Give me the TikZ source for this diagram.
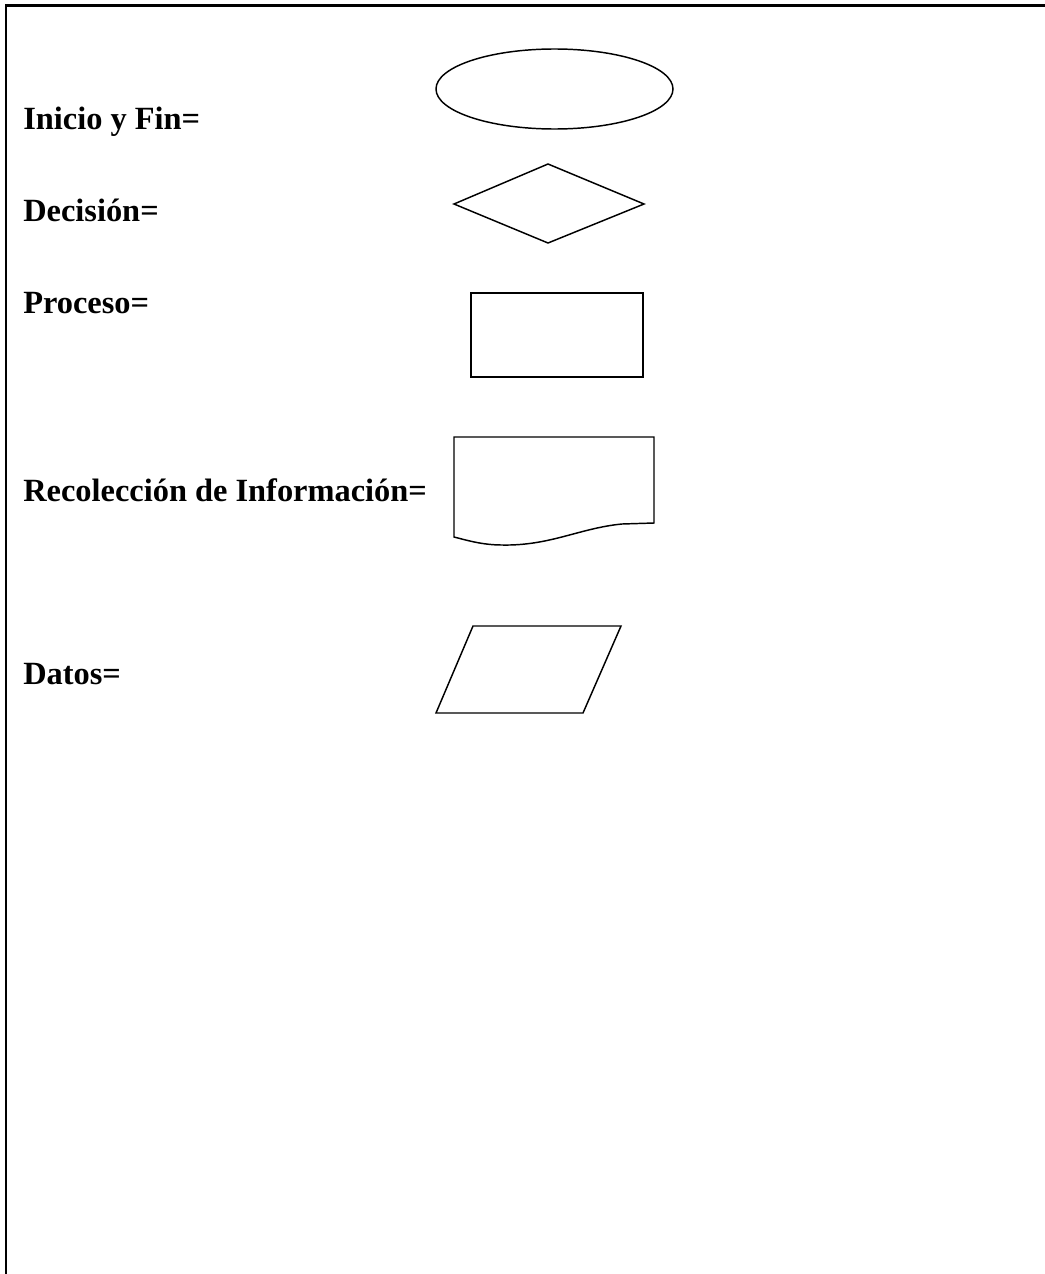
\documentclass[tikz,border=0pt]{standalone}
\usepackage{fontspec}
\setmainfont{Liberation Serif}
\begin{document}
\begin{tikzpicture}[x=0.75pt,y=-0.75pt,
  lbl/.style={anchor=base west,inner sep=0pt,font=\fontsize{24.3}{29}\selectfont\bfseries},
  shp/.style={draw=black,line width=1.1pt},
  frame/.style={draw=black,line width=1.6pt}]
\useasboundingbox (0,0) rectangle (1045,1274);
\draw[frame] (1045,5.5) -- (6,5.5) -- (6,1274);
% labels
\node[lbl] (t1) at (23,129) {Inicio y Fin=};
\node[lbl] (t2) at (23,221) {Decisión=};
\node[lbl] (t3) at (23,313) {Proceso=};
\node[lbl] (t4) at (23,501) {Recolección de Información=};
\node[lbl] (t5) at (23,684) {Datos=};
% shapes
\draw[shp] (554.5,89) ellipse [x radius=118.5, y radius=40];
\draw[shp] (454,204) -- (548,164) -- (644,204) -- (548,243) -- cycle;
\draw[shp] (471,293) rectangle (643,377);
\draw[shp] (454,537) -- (454,437) -- (654,437) -- (654,523) -- (622,524)
  .. controls (580,528) and (550,546) .. (502,545)
  .. controls (482,545) and (466,540) .. (454,537) -- cycle;
\draw[shp] (473,626) -- (621,626) -- (583,713) -- (436,713) -- cycle;
\end{tikzpicture}
\end{document}
